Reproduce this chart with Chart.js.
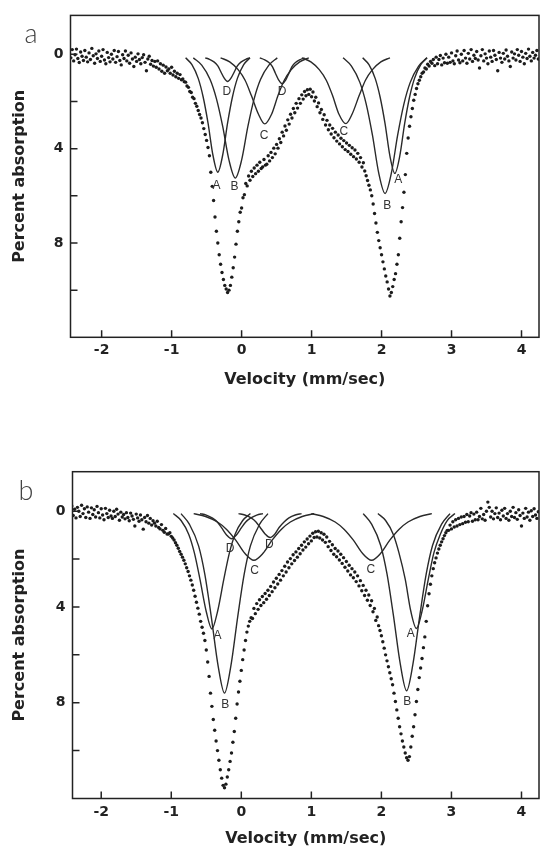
<!DOCTYPE html>
<html>
<head>
<meta charset="utf-8">
<script src="https://cdn.jsdelivr.net/npm/chart.js@4.4.0/dist/chart.umd.min.js"></script>
<style>
  html, body { margin: 0; padding: 0; background: #fff; }
  .panel { position: absolute; left: 0; width: 543px; }
  #wrapA { top: 0; height: 420px; }
  #wrapB { top: 420px; height: 428px; }
</style>
</head>
<body>
<div class="panel" id="wrapA"><canvas id="chartA" width="543" height="420"></canvas></div>
<div class="panel" id="wrapB"><canvas id="chartB" width="543" height="428"></canvas></div>
<script>
// velocity channels (mm/sec), shared by both spectra
const velocity = [
  -2.44,-2.42,-2.40,-2.38,-2.36,-2.34,-2.32,-2.30,-2.28,-2.26,
  -2.24,-2.22,-2.20,-2.18,-2.16,-2.14,-2.12,-2.10,-2.08,-2.06,
  -2.04,-2.02,-2.00,-1.98,-1.96,-1.94,-1.92,-1.90,-1.88,-1.86,
  -1.84,-1.82,-1.80,-1.78,-1.76,-1.74,-1.72,-1.70,-1.68,-1.66,
  -1.64,-1.62,-1.60,-1.58,-1.56,-1.54,-1.52,-1.50,-1.48,-1.46,
  -1.44,-1.42,-1.40,-1.38,-1.36,-1.34,-1.32,-1.30,-1.28,-1.26,
  -1.24,-1.22,-1.20,-1.18,-1.16,-1.14,-1.12,-1.10,-1.08,-1.06,
  -1.04,-1.02,-1.00,-0.98,-0.96,-0.94,-0.92,-0.90,-0.88,-0.86,
  -0.84,-0.82,-0.80,-0.78,-0.76,-0.74,-0.72,-0.70,-0.68,-0.66,
  -0.64,-0.62,-0.60,-0.58,-0.56,-0.54,-0.52,-0.50,-0.48,-0.46,
  -0.44,-0.42,-0.40,-0.38,-0.36,-0.34,-0.32,-0.30,-0.28,-0.26,
  -0.24,-0.22,-0.20,-0.18,-0.16,-0.14,-0.12,-0.10,-0.08,-0.06,
  -0.04,-0.02,0.00,0.02,0.04,0.06,0.08,0.10,0.12,0.14,
  0.16,0.18,0.20,0.22,0.24,0.26,0.28,0.30,0.32,0.34,
  0.36,0.38,0.40,0.42,0.44,0.46,0.48,0.50,0.52,0.54,
  0.56,0.58,0.60,0.62,0.64,0.66,0.68,0.70,0.72,0.74,
  0.76,0.78,0.80,0.82,0.84,0.86,0.88,0.90,0.92,0.94,
  0.96,0.98,1.00,1.02,1.04,1.06,1.08,1.10,1.12,1.14,
  1.16,1.18,1.20,1.22,1.24,1.26,1.28,1.30,1.32,1.34,
  1.36,1.38,1.40,1.42,1.44,1.46,1.48,1.50,1.52,1.54,
  1.56,1.58,1.60,1.62,1.64,1.66,1.68,1.70,1.72,1.74,
  1.76,1.78,1.80,1.82,1.84,1.86,1.88,1.90,1.92,1.94,
  1.96,1.98,2.00,2.02,2.04,2.06,2.08,2.10,2.12,2.14,
  2.16,2.18,2.20,2.22,2.24,2.26,2.28,2.30,2.32,2.34,
  2.36,2.38,2.40,2.42,2.44,2.46,2.48,2.50,2.52,2.54,
  2.56,2.58,2.60,2.62,2.64,2.66,2.68,2.70,2.72,2.74,
  2.76,2.78,2.80,2.82,2.84,2.86,2.88,2.90,2.92,2.94,
  2.96,2.98,3.00,3.02,3.04,3.06,3.08,3.10,3.12,3.14,
  3.16,3.18,3.20,3.22,3.24,3.26,3.28,3.30,3.32,3.34,
  3.36,3.38,3.40,3.42,3.44,3.46,3.48,3.50,3.52,3.54,
  3.56,3.58,3.60,3.62,3.64,3.66,3.68,3.70,3.72,3.74,
  3.76,3.78,3.80,3.82,3.84,3.86,3.88,3.90,3.92,3.94,
  3.96,3.98,4.00,4.02,4.04,4.06,4.08,4.10,4.12,4.14,
  4.16,4.18,4.20,4.22,4.24
];

// percent absorption, spectrum a
const absorptionA = [
  0.15,-0.20,0.28,0.02,-0.22,0.18,0.35,-0.10,0.08,0.26,
  -0.16,0.12,0.32,-0.06,0.22,-0.25,0.06,0.38,-0.02,0.18,
  -0.14,0.30,0.08,-0.20,0.24,0.40,-0.08,0.14,0.32,0.00,
  0.20,-0.16,0.34,0.10,-0.12,0.26,0.45,0.02,0.18,-0.14,
  0.28,0.04,0.38,-0.06,0.20,0.52,0.12,0.30,-0.02,0.22,
  0.40,0.14,0.02,0.34,0.70,0.20,0.08,0.42,0.26,0.50,
  0.30,0.55,0.28,0.62,0.40,0.72,0.46,0.80,0.54,0.70,
  0.62,0.80,0.55,0.88,0.72,0.95,0.80,1.02,0.86,1.08,
  1.05,1.16,1.18,1.34,1.40,1.58,1.62,1.82,1.88,2.08,
  2.20,2.38,2.55,2.70,2.90,3.15,3.40,3.65,3.95,4.30,
  5.00,5.60,6.20,6.90,7.50,8.00,8.50,8.90,9.25,9.55,
  9.80,9.95,10.10,10.00,9.80,9.45,9.05,8.60,8.05,7.50,
  7.10,6.70,6.52,6.08,5.95,5.48,5.58,5.16,5.34,4.96,
  5.18,4.82,5.06,4.70,4.96,4.58,4.84,4.78,4.46,4.70,
  4.66,4.30,4.52,4.16,4.38,3.98,4.22,3.82,3.98,3.58,
  3.74,3.30,3.46,3.04,3.22,2.78,2.96,2.54,2.70,2.30,
  2.48,2.08,2.28,1.88,2.08,1.72,1.90,1.58,1.76,1.50,
  1.70,1.48,1.80,1.60,1.98,1.82,2.22,2.06,2.48,2.34,
  2.76,2.56,3.00,2.80,3.20,3.00,3.38,3.14,3.54,3.30,
  3.68,3.42,3.80,3.56,3.92,3.66,4.04,3.76,4.12,3.86,
  4.24,3.96,4.34,4.06,4.44,4.20,4.58,4.38,4.78,4.60,
  4.95,5.15,5.35,5.55,5.75,6.00,6.35,6.75,7.15,7.55,
  7.90,8.20,8.50,8.80,9.10,9.40,9.65,9.95,10.25,10.10,
  9.85,9.55,9.30,8.90,8.50,7.80,7.10,6.50,5.85,5.10,
  4.20,3.55,3.05,2.65,2.30,1.95,1.70,1.45,1.25,1.10,
  0.95,0.80,0.75,0.58,0.62,0.42,0.50,0.30,0.38,0.22,
  0.48,0.12,0.40,0.22,0.05,0.45,0.16,0.36,0.00,0.38,
  0.12,0.34,-0.06,0.28,0.40,0.06,-0.14,0.24,0.36,0.00,
  0.28,-0.16,0.16,0.38,-0.04,0.20,-0.20,0.30,0.04,0.18,
  -0.12,0.24,0.58,0.06,-0.20,0.28,-0.02,0.16,0.40,-0.14,
  0.12,0.30,-0.16,0.04,0.22,0.70,-0.08,0.16,0.34,-0.04,
  0.20,-0.18,0.08,0.28,0.52,-0.10,0.16,-0.02,0.24,-0.20,
  0.04,0.30,-0.12,0.12,0.40,-0.04,0.18,-0.22,0.08,0.28,
  -0.08,0.16,0.04,-0.16,0.20
];

// percent absorption, spectrum b
const absorptionB = [
  0.08,-0.22,0.18,-0.08,0.28,-0.16,0.00,0.22,-0.25,0.10,
  -0.10,0.26,-0.18,0.04,0.30,-0.14,0.14,-0.06,0.24,-0.20,
  0.06,0.28,-0.10,0.16,0.36,-0.12,0.10,0.26,-0.04,0.20,
  0.30,0.00,0.22,-0.08,0.12,0.38,0.04,0.24,0.14,0.32,
  0.06,0.26,0.40,0.08,0.20,0.34,0.62,0.12,0.28,0.42,
  0.16,0.36,0.75,0.26,0.44,0.18,0.50,0.30,0.58,0.40,
  0.50,0.62,0.42,0.68,0.74,0.56,0.80,0.88,0.72,0.95,
  0.95,0.90,1.05,1.12,1.20,1.32,1.42,1.55,1.68,1.80,
  1.92,2.05,2.20,2.36,2.52,2.70,2.88,3.08,3.30,3.55,
  3.80,4.05,4.30,4.60,4.85,5.10,5.40,5.80,6.30,6.90,
  7.60,8.15,8.70,9.15,9.60,10.00,10.40,10.80,11.15,11.45,
  11.55,11.40,11.10,10.80,10.45,10.10,9.65,9.20,8.65,8.05,
  7.55,7.10,6.65,6.20,5.80,5.40,5.05,4.80,4.60,4.45,
  4.48,4.06,4.28,3.86,4.10,3.70,3.94,3.56,3.82,3.44,
  3.68,3.30,3.52,3.14,3.36,2.96,3.20,2.80,3.04,2.64,
  2.88,2.48,2.70,2.30,2.54,2.12,2.36,1.98,2.20,1.82,
  2.06,1.70,1.92,1.56,1.78,1.42,1.62,1.28,1.50,1.16,
  1.36,1.04,1.24,0.92,1.10,0.86,1.08,0.84,1.12,0.90,
  1.20,0.96,1.30,1.08,1.48,1.26,1.64,1.40,1.80,1.56,
  1.90,1.66,2.04,1.80,2.18,1.94,2.34,2.10,2.50,2.26,
  2.66,2.40,2.78,2.54,2.94,2.70,3.12,2.90,3.32,3.10,
  3.52,3.30,3.72,3.50,3.94,3.74,4.20,4.06,4.56,4.42,
  4.78,4.98,5.20,5.45,5.72,6.00,6.25,6.50,6.75,7.00,
  7.25,7.60,7.95,8.30,8.65,9.00,9.30,9.60,9.85,10.10,
  10.30,10.40,10.25,9.85,9.40,9.00,8.50,7.95,7.45,6.95,
  6.55,6.15,5.70,5.25,4.60,3.95,3.45,3.05,2.70,2.40,
  2.15,1.95,1.75,1.58,1.42,1.28,1.15,1.02,0.90,0.80,
  0.80,0.58,0.74,0.44,0.66,0.36,0.62,0.30,0.56,0.24,
  0.52,0.22,0.46,0.14,0.44,0.20,0.06,0.42,0.12,0.36,
  0.04,0.36,0.22,-0.12,0.32,0.14,0.38,0.00,-0.38,-0.16,
  0.24,0.00,0.32,0.10,-0.14,0.26,0.08,0.36,-0.04,0.20,
  -0.12,0.30,0.10,0.38,0.00,0.22,-0.16,0.26,0.06,0.34,
  -0.06,0.18,0.62,0.08,0.30,-0.12,0.24,0.04,0.38,-0.02,
  0.22,-0.10,0.16,0.30,0.02
];

// fitted component lines, spectrum a  [velocity, absorption]
const fitA_A1 = [[-0.80,0.15],[-0.71,0.44],[-0.62,1.02],[-0.55,1.80],[-0.48,2.91],[-0.41,4.27],[-0.34,5.00],[-0.27,4.27],[-0.20,2.91],[-0.13,1.80],[-0.06,1.02],[0.03,0.44],[0.12,0.15]];
const fitA_A2 = [[1.73,0.15],[1.82,0.44],[1.91,1.03],[1.98,1.82],[2.05,2.94],[2.12,4.32],[2.19,5.05],[2.26,4.32],[2.33,2.94],[2.40,1.82],[2.47,1.03],[2.56,0.44],[2.65,0.15]];
const fitA_B1 = [[-0.69,0.15],[-0.57,0.46],[-0.45,1.07],[-0.36,1.88],[-0.27,3.06],[-0.18,4.49],[-0.09,5.25],[0.00,4.49],[0.09,3.06],[0.18,1.88],[0.27,1.07],[0.39,0.46],[0.51,0.15]];
const fitA_B2 = [[1.45,0.15],[1.57,0.50],[1.69,1.19],[1.78,2.10],[1.87,3.43],[1.96,5.04],[2.05,5.90],[2.14,5.04],[2.23,3.43],[2.32,2.10],[2.41,1.19],[2.53,0.50],[2.65,0.15]];
const fitA_C1 = [[-0.30,0.15],[-0.17,0.32],[-0.05,0.65],[0.05,1.10],[0.14,1.75],[0.24,2.53],[0.33,2.95],[0.43,2.53],[0.52,1.75],[0.61,1.10],[0.71,0.65],[0.83,0.32],[0.96,0.15]];
const fitA_C2 = [[0.86,0.15],[0.99,0.32],[1.11,0.65],[1.21,1.10],[1.30,1.75],[1.39,2.53],[1.49,2.94],[1.58,2.53],[1.68,1.75],[1.77,1.10],[1.87,0.65],[1.99,0.32],[2.12,0.15]];
const fitA_D1 = [[-0.52,0.15],[-0.46,0.21],[-0.39,0.33],[-0.34,0.49],[-0.30,0.72],[-0.25,1.00],[-0.20,1.15],[-0.15,1.00],[-0.10,0.72],[-0.06,0.49],[-0.01,0.33],[0.06,0.21],[0.12,0.15]];
const fitA_D2 = [[0.26,0.15],[0.32,0.22],[0.39,0.35],[0.44,0.52],[0.48,0.78],[0.53,1.09],[0.58,1.25],[0.63,1.09],[0.68,0.78],[0.72,0.52],[0.77,0.35],[0.84,0.22],[0.90,0.15]];

// fitted component lines, spectrum b
const fitB_A1 = [[-0.97,0.10],[-0.86,0.39],[-0.75,0.97],[-0.67,1.74],[-0.59,2.85],[-0.50,4.20],[-0.42,4.92],[-0.34,4.20],[-0.25,2.85],[-0.17,1.74],[-0.09,0.97],[0.02,0.39],[0.13,0.10]];
const fitB_A2 = [[1.95,0.10],[2.06,0.39],[2.17,0.97],[2.25,1.73],[2.34,2.84],[2.42,4.18],[2.50,4.90],[2.58,4.18],[2.67,2.84],[2.75,1.73],[2.84,0.97],[2.94,0.39],[3.05,0.10]];
const fitB_B1 = [[-0.86,0.10],[-0.74,0.55],[-0.61,1.45],[-0.52,2.65],[-0.43,4.38],[-0.33,6.48],[-0.24,7.60],[-0.15,6.48],[-0.05,4.38],[0.04,2.65],[0.13,1.45],[0.26,0.55],[0.38,0.10]];
const fitB_B2 = [[1.74,0.10],[1.86,0.54],[1.99,1.43],[2.08,2.62],[2.17,4.32],[2.27,6.39],[2.36,7.50],[2.45,6.39],[2.55,4.32],[2.64,2.62],[2.73,1.43],[2.86,0.54],[2.98,0.10]];
const fitB_C1 = [[-0.68,0.10],[-0.51,0.22],[-0.34,0.45],[-0.21,0.76],[-0.08,1.21],[0.05,1.76],[0.18,2.05],[0.31,1.76],[0.44,1.21],[0.57,0.76],[0.70,0.45],[0.87,0.22],[1.04,0.10]];
const fitB_C2 = [[1.00,0.10],[1.17,0.22],[1.34,0.45],[1.47,0.76],[1.60,1.21],[1.73,1.76],[1.86,2.05],[1.99,1.76],[2.12,1.21],[2.25,0.76],[2.38,0.45],[2.55,0.22],[2.72,0.10]];
const fitB_D1 = [[-0.59,0.10],[-0.50,0.16],[-0.41,0.29],[-0.34,0.46],[-0.28,0.70],[-0.21,0.99],[-0.14,1.15],[-0.07,0.99],[0.00,0.70],[0.06,0.46],[0.13,0.29],[0.22,0.16],[0.31,0.10]];
const fitB_D2 = [[-0.04,0.10],[0.05,0.16],[0.14,0.28],[0.21,0.45],[0.27,0.68],[0.34,0.95],[0.41,1.10],[0.48,0.95],[0.54,0.68],[0.61,0.45],[0.68,0.28],[0.77,0.16],[0.86,0.10]];

// peak letters: [text, velocity, absorption]
const peakLabelsA = [['A',-0.36,5.55],['B',-0.10,5.6],['C',0.32,3.45],['D',-0.21,1.6],['D',0.58,1.6],['C',1.46,3.3],['B',2.08,6.4],['A',2.24,5.3]];
const peakLabelsB = [['A',-0.34,5.2],['B',-0.23,8.1],['C',0.19,2.5],['D',-0.16,1.57],['D',0.40,1.38],['C',1.85,2.45],['A',2.42,5.1],['B',2.37,7.95]];

const velocityTicks = [-2, -1, 0, 1, 2, 3, 4];
const absorptionTicks = [0, 2, 4, 6, 8, 10];
const absorptionLabelled = [0, 4, 8];

const INK = '#222';

// box round the plot + short inward tick marks
const frameTicks = {
  id: 'frameTicks',
  afterDraw(chart) {
    const {ctx, chartArea: a, scales: {x, y}} = chart;
    ctx.save();
    ctx.strokeStyle = INK;
    ctx.lineWidth = 1.5;
    ctx.strokeRect(a.left, a.top, a.right - a.left, a.bottom - a.top);
    ctx.beginPath();
    x.ticks.forEach(t => {
      const px = x.getPixelForValue(t.value);
      ctx.moveTo(px, a.bottom);
      ctx.lineTo(px, a.bottom - 7);
    });
    y.ticks.forEach(t => {
      const py = y.getPixelForValue(t.value);
      ctx.moveTo(a.left, py);
      ctx.lineTo(a.left + 7, py);
    });
    ctx.stroke();
    ctx.restore();
  }
};

// A/B/C/D letters under the fitted lines
const peakLetters = {
  id: 'peakLetters',
  afterDatasetsDraw(chart, args, opts) {
    const {ctx, scales: {x, y}} = chart;
    ctx.save();
    ctx.font = '12px "Liberation Sans", Arial, sans-serif';
    ctx.fillStyle = '#333';
    ctx.textAlign = 'center';
    ctx.textBaseline = 'middle';
    (opts.items || []).forEach(([txt, vx, vy]) => {
      ctx.fillText(txt, x.getPixelForValue(vx), y.getPixelForValue(vy));
    });
    ctx.restore();
  }
};

// the "a" / "b" panel letter
const panelLetter = {
  id: 'panelLetter',
  afterDraw(chart, args, opts) {
    const ctx = chart.ctx;
    ctx.save();
    ctx.font = '300 27px Lato, "DejaVu Sans", sans-serif';
    ctx.fillStyle = '#444';
    ctx.textAlign = 'center';
    ctx.textBaseline = 'middle';
    ctx.fillText(opts.text, opts.x, opts.y);
    ctx.restore();
  }
};

function curve(points) {
  return {
    data: points.map(p => ({x: p[0], y: p[1]})),
    showLine: true,
    pointRadius: 0,
    borderColor: '#2a2a2a',
    borderWidth: 1.4,
    cubicInterpolationMode: 'monotone',
    fill: false
  };
}

function makeChart(id, cfg) {
  const tickFont = {family: '"DejaVu Sans", sans-serif', size: 14, weight: 'bold'};
  const titleFont = {family: '"DejaVu Sans", sans-serif', size: 16, weight: 'bold'};
  const datasets = [{
    data: velocity.map((v, i) => ({x: v, y: cfg.absorption[i]})),
    pointRadius: 1.7,
    pointBackgroundColor: '#1c1c1c',
    pointBorderWidth: 0,
    showLine: false
  }].concat(cfg.fits.map(curve));

  return new Chart(document.getElementById(id), {
    type: 'scatter',
    data: {datasets},
    options: {
      responsive: false,
      animation: false,
      devicePixelRatio: 1,
      layout: {padding: {left: 10.4, top: cfg.top, right: 2, bottom: cfg.bottom}},
      plugins: {
        legend: {display: false},
        tooltip: {enabled: false},
        peakLetters: {items: cfg.labels},
        panelLetter: cfg.letter
      },
      scales: {
        x: {
          type: 'linear',
          min: cfg.xMin,
          max: 4.25,
          afterBuildTicks: s => { s.ticks = velocityTicks.map(v => ({value: v})); },
          afterFit: s => { s.height = cfg.xAxisHeight; },
          grid: {display: false, drawTicks: false},
          border: {display: false},
          ticks: {autoSkip: false, maxRotation: 0, padding: 5, color: INK, font: tickFont,
                  callback: v => String(v)},
          title: {display: true, text: 'Velocity (mm/sec)', color: INK, font: titleFont, padding: 0}
        },
        y: {
          type: 'linear',
          reverse: true,
          min: -1.65,
          max: 12,
          afterBuildTicks: s => { s.ticks = absorptionTicks.map(v => ({value: v})); },
          afterFit: s => { s.width = cfg.yAxisWidth; },
          grid: {display: false, drawTicks: false},
          border: {display: false},
          ticks: {autoSkip: false, padding: 7, color: INK, font: tickFont,
                  callback: v => absorptionLabelled.includes(v) ? String(v) : ''},
          title: {display: true, text: 'Percent absorption', color: INK, font: titleFont, padding: 0}
        }
      }
    },
    plugins: [frameTicks, peakLetters, panelLetter]
  });
}

makeChart('chartA', {
  absorption: absorptionA,
  fits: [fitA_A1, fitA_A2, fitA_B1, fitA_B2, fitA_C1, fitA_C2, fitA_D1, fitA_D2],
  labels: peakLabelsA,
  letter: {text: 'a', x: 31, y: 34},
  xMin: -2.445,
  top: 12,
  bottom: 30.4,
  xAxisHeight: 52.3,
  yAxisWidth: 60.1
});

makeChart('chartB', {
  absorption: absorptionB,
  fits: [fitB_A1, fitB_A2, fitB_B1, fitB_B2, fitB_C1, fitB_C2, fitB_D1, fitB_D2],
  labels: peakLabelsB,
  letter: {text: 'b', x: 26, y: 71},
  xMin: -2.41,
  top: 51.7,
  bottom: 0,
  xAxisHeight: 49.5,
  yAxisWidth: 62.1
});
</script>
</body>
</html>
